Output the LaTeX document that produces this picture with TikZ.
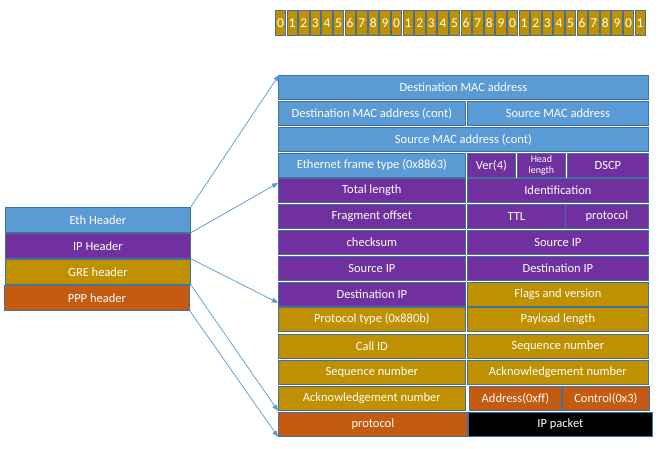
\documentclass[tikz,border=0pt]{standalone}
\usepackage{fontspec}
\setmainfont{Carlito}
\usetikzlibrary{arrows.meta,positioning}
\definecolor{ethblue}{RGB}{91,155,213}
\definecolor{ippurple}{RGB}{112,48,160}
\definecolor{gregold}{RGB}{191,144,0}
\definecolor{ppporange}{RGB}{197,90,17}
\definecolor{cellline}{RGB}{65,113,156}

\begin{document}
\begin{tikzpicture}[
    x=1pt, y=-1pt,
    cell/.style={draw=cellline, line width=0.75pt, text=white, inner sep=0pt,
                 minimum height=24pt, anchor=north west,
                 font=\fontsize{12.5}{15}\selectfont},
    half/.style={cell, minimum width=187pt},
    rhalf/.style={cell, minimum width=181pt},
    full/.style={cell, minimum width=370pt},
    bitbox/.style={draw=cellline, line width=0.75pt, fill=gregold, text=white,
                   minimum width=10.3pt, minimum height=25pt, inner sep=0pt,
                   anchor=north west, font=\fontsize{13.5}{15}\selectfont},
    hdr/.style={cell, minimum width=185pt, minimum height=25pt},
    link/.style={draw=ethblue, line width=0.75pt, -{Triangle[length=6pt,width=5pt]}},
]
  \useasboundingbox (0,0) rectangle (660,448);

  % bit ruler
  \foreach \i in {0,...,31} {
    \pgfmathtruncatemacro{\d}{mod(\i,10)}
    \node[bitbox] (b\i) at ({275+11.6*\i},10) {\d};
  }

  % header stack
  \node[hdr,fill=ethblue] (eth) at (5,207) {Eth Header};
  \node[hdr,fill=ippurple] (ip) at (5,233) {IP Header};
  \node[hdr,fill=gregold] (gre) at (5,259) {GRE header};
  \node[hdr,fill=ppporange] (ppp) at (4,285) {PPP header};

  % Ethernet
  \node[full,fill=ethblue] (r1) at (278,75) {Destination MAC address};
  \node[half,fill=ethblue] (r2l) at (278,101) {Destination MAC address (cont)};
  \node[rhalf,fill=ethblue] (r2r) at (467,101) {Source MAC address};
  \node[full,fill=ethblue] (r3) at (278,127) {Source MAC address (cont)};
  \node[half,fill=ethblue] (r4l) at (278,153) {Ethernet frame type (0x8863)};

  % IP
  \node[cell,fill=ippurple,minimum width=48pt] (ver) at (467,153) {Ver(4)};
  \node[cell,fill=ippurple,minimum width=48pt,align=center,
        font=\fontsize{10}{11}\selectfont] (hlen) at (517,153) {Head\\length};
  \node[cell,fill=ippurple,minimum width=81pt] (dscp) at (567,153) {DSCP};
  \node[half,fill=ippurple] (r5l) at (278,178) {Total length};
  \node[rhalf,fill=ippurple] (r5r) at (467,178) {Identification};
  \node[half,fill=ippurple] (r6l) at (278,204) {Fragment offset};
  \node[cell,fill=ippurple,minimum width=98pt] (ttl) at (467,204) {TTL};
  \node[cell,fill=ippurple,minimum width=83pt] (proto) at (565,204) {protocol};
  \node[half,fill=ippurple] (r7l) at (278,230) {checksum};
  \node[rhalf,fill=ippurple] (r7r) at (467,230) {Source IP};
  \node[half,fill=ippurple] (r8l) at (278,256) {Source IP};
  \node[rhalf,fill=ippurple] (r8r) at (467,256) {Destination IP};
  \node[half,fill=ippurple] (r9l) at (278,282) {Destination IP};

  % GRE
  \node[rhalf,fill=gregold] (r9r) at (467,282) {Flags and version};
  \node[half,fill=gregold] (r10l) at (278,307) {Protocol type (0x880b)};
  \node[rhalf,fill=gregold] (r10r) at (467,307) {Payload length};
  \node[half,fill=gregold] (r11l) at (278,334) {Call ID};
  \node[rhalf,fill=gregold] (r11r) at (467,334) {Sequence number};
  \node[half,fill=gregold] (r12l) at (278,360) {Sequence number};
  \node[rhalf,fill=gregold] (r12r) at (467,360) {Acknowledgement number};
  \node[half,fill=gregold] (r13l) at (278,386) {Acknowledgement number};

  % PPP
  \node[cell,fill=ppporange,minimum width=92pt] (addr) at (469,386) {Address(0xff)};
  \node[cell,fill=ppporange,minimum width=87pt] (ctrl) at (562,386) {Control(0x3)};
  \node[cell,fill=ppporange,minimum width=189pt] (r14l) at (278,412) {protocol};
  \node[cell,fill=black,minimum width=184pt] (pkt) at (468,412) {IP packet};

  % pointers
  \draw[link] (eth.north east) -- ([xshift=1pt]r1.north west);
  \draw[link] (eth.south east) -- ([yshift=-5pt]r5l.north west);
  \draw[link] (ip.south east) -- ([yshift=4pt]r9l.south west);
  \draw[link] (gre.south east) -- (r13l.south west);
  \draw[link] (ppp.south east) -- (r14l.south west);
\end{tikzpicture}
\end{document}
